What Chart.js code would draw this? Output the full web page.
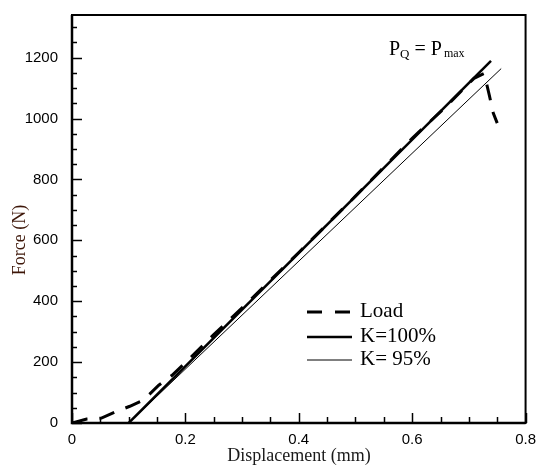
<!DOCTYPE html>
<html><head><meta charset="utf-8">
<script src="https://cdn.jsdelivr.net/npm/chart.js@4/dist/chart.umd.min.js"></script>
<style>html,body{margin:0;padding:0;background:#fff}#wrap{width:536px;height:466px}</style>
</head><body><div id="wrap"><canvas id="c" width="536" height="466"></canvas></div>
<script>
const seriesNames = ["Load", "K=100%", "K= 95%"];
const loadX = [0, 0.026, 0.052, 0.076, 0.102, 0.126, 0.153, 0.176, 0.2, 0.25, 0.3, 0.4, 0.5, 0.6, 0.66, 0.709, 0.727, 0.736, 0.743, 0.75];
const loadY = [0, 13, 16, 36, 55, 75, 124, 156, 198, 290, 378, 560, 745, 935, 1040, 1132, 1148, 1077, 1018, 985];
const k100X = [0.1, 0.739];
const k100Y = [0, 1189];
const k95X = [0.1, 0.757];
const k95Y = [0, 1164];
const xTickLabels = ["0", "0.2", "0.4", "0.6", "0.8"];
const yTickLabels = ["0", "200", "400", "600", "800", "1000", "1200"];
const annotationText = ["P", "Q", " = P", "max"];
const xTitle = "Displacement (mm)";
const yTitle = "Force (N)";

const pts = (xs, ys) => xs.map((x, i) => ({x: x, y: ys[i]}));
const isMult = (v, s) => Math.abs(v / s - Math.round(v / s)) < 1e-6;

const deco = {
  id: 'deco',
  afterDraw(chart) {
    const ctx = chart.ctx, a = chart.chartArea, xs = chart.scales.x, ys = chart.scales.y;
    ctx.save();
    ctx.strokeStyle = '#000';
    ctx.lineWidth = 1.5;
    for (let v = 0; v <= 1300 + 1e-6; v += 50) {
      const y = Math.round(ys.getPixelForValue(v)) + 0.5;
      const len = isMult(v, 200) ? 10 : 5;
      ctx.beginPath(); ctx.moveTo(a.left, y); ctx.lineTo(a.left + len, y); ctx.stroke();
    }
    for (let v = 0; v <= 0.8 + 1e-6; v += 0.05) {
      const x = Math.round(xs.getPixelForValue(v)) + 0.5;
      const len = isMult(v, 0.2) ? 10 : 6;
      ctx.beginPath(); ctx.moveTo(x, a.bottom); ctx.lineTo(x, a.bottom - len); ctx.stroke();
    }
    ctx.lineWidth = 2;
    ctx.strokeRect(a.left, a.top, a.right - a.left, a.bottom - a.top);
    ctx.lineWidth = 2.5;
    ctx.beginPath(); ctx.moveTo(a.left, a.top); ctx.lineTo(a.left, a.bottom); ctx.lineTo(a.right, a.bottom); ctx.stroke();

    // legend
    const ds = chart.data.datasets;
    const lx0 = 307, lx1 = 352, rows = [312, 337, 360];
    ctx.font = '21px "Liberation Serif", "Times New Roman", serif';
    ctx.textBaseline = 'alphabetic';
    ctx.fillStyle = '#000';
    ds.forEach((d, i) => {
      ctx.lineWidth = d.borderWidth;
      ctx.setLineDash(i === 0 ? [15, 13] : []);
      ctx.beginPath(); ctx.moveTo(lx0, rows[i]); ctx.lineTo(lx1, rows[i]); ctx.stroke();
      ctx.setLineDash([]);
      ctx.fillText(d.label, 360, rows[i] + 5);
    });

    // annotation P_Q = P_max
    let x = 389; const base = 55;
    ctx.font = '20px "Liberation Serif", "Times New Roman", serif';
    ctx.fillText(annotationText[0], x, base); x += ctx.measureText(annotationText[0]).width;
    ctx.font = '13px "Liberation Serif", "Times New Roman", serif';
    ctx.fillText(annotationText[1], x, base + 3); x += ctx.measureText(annotationText[1]).width;
    ctx.font = '20px "Liberation Serif", "Times New Roman", serif';
    ctx.fillText(annotationText[2], x, base); x += ctx.measureText(annotationText[2]).width + 2;
    ctx.font = '12px "Liberation Serif", "Times New Roman", serif';
    ctx.fillText(annotationText[3], x, base + 2);

    // axis titles
    ctx.font = '18px "Liberation Serif", "Times New Roman", serif';
    ctx.textAlign = 'center';
    ctx.fillStyle = '#1a1a1a';
    ctx.fillText(xTitle, 299, 461);
    ctx.save();
    ctx.translate(25, 240);
    ctx.rotate(-Math.PI / 2);
    ctx.fillStyle = '#3d1608';
    ctx.fillText(yTitle, 0, 0);
    ctx.restore();
    ctx.restore();
  }
};

new Chart(document.getElementById('c'), {
  type: 'scatter',
  data: {
    datasets: [
      {label: seriesNames[0], data: pts(loadX, loadY), showLine: true, borderColor: '#000', borderWidth: 3, borderDash: [16, 12], pointRadius: 0, tension: 0, order: 0},
      {label: seriesNames[1], data: pts(k100X, k100Y), showLine: true, borderColor: '#000', borderWidth: 2.5, pointRadius: 0, order: 1},
      {label: seriesNames[2], data: pts(k95X, k95Y), showLine: true, borderColor: '#000', borderWidth: 1, pointRadius: 0, order: 2}
    ]
  },
  options: {
    responsive: false, animation: false, devicePixelRatio: 1,
    layout: {padding: {top: 10, right: 10, left: 0, bottom: 0}},
    plugins: {legend: {display: false}, tooltip: {enabled: false}},
    scales: {
      x: {
        type: 'linear', min: 0, max: 0.8,
        grid: {display: false}, border: {display: false},
        afterFit: s => { s.height = 43; },
        ticks: {
          stepSize: 0.05, autoSkip: false, maxRotation: 0, padding: 0, color: '#000',
          font: {family: '"Liberation Sans", Arial, sans-serif', size: 15},
          callback: v => isMult(v, 0.2) ? xTickLabels[Math.round(v / 0.2)] : ''
        }
      },
      y: {
        type: 'linear', min: 0, max: 1340,
        grid: {display: false}, border: {display: false},
        afterFit: s => { s.width = 72; },
        ticks: {
          stepSize: 50, autoSkip: false, padding: 6, color: '#000',
          font: {family: '"Liberation Sans", Arial, sans-serif', size: 15},
          callback: v => (isMult(v, 200) && v <= 1200) ? yTickLabels[Math.round(v / 200)] : ''
        }
      }
    }
  },
  plugins: [deco]
});
</script></body></html>
